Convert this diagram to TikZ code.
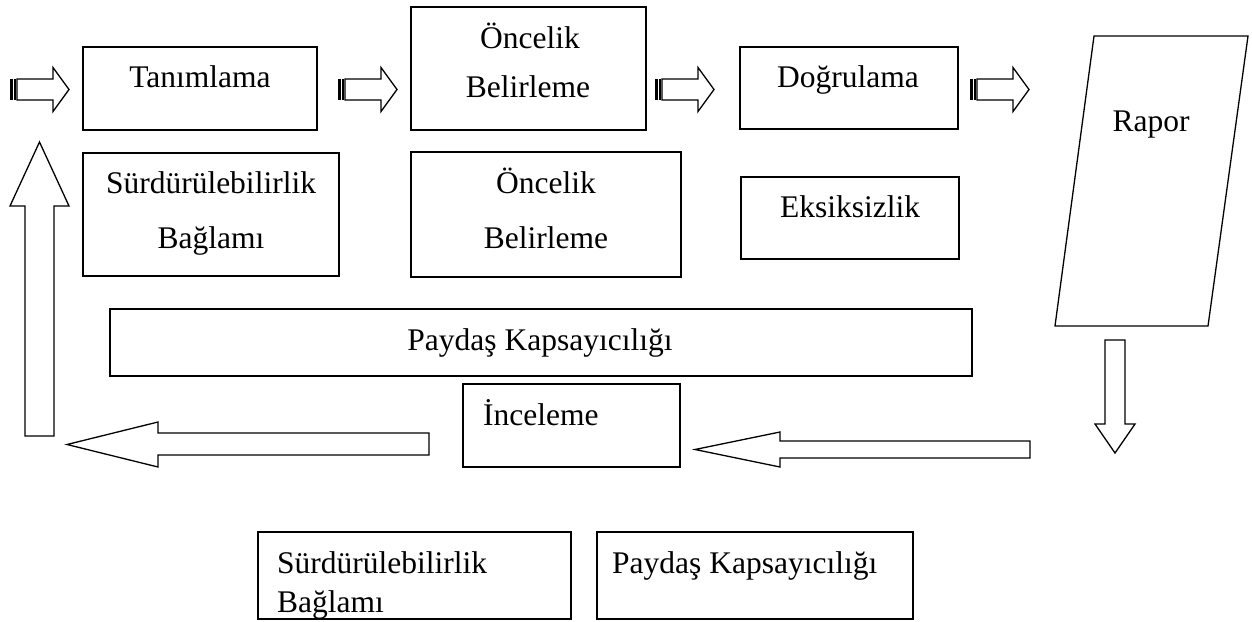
\documentclass[tikz,border=0pt]{standalone}
\usepackage{fontspec}
\setmainfont{Liberation Serif}
\begin{document}
\begin{tikzpicture}[x=1pt,y=-1pt,
  box/.style={draw,line width=1.3pt,inner sep=0pt},
  txt/.style={anchor=base,inner sep=0pt,font=\fontsize{31.5}{38}\selectfont},
  txtl/.style={anchor=base west,inner sep=0pt,font=\fontsize{31.5}{38}\selectfont},
  blockarrow/.style={draw,line width=1.3pt,line join=miter,fill=white},
  pics/striped/.style={code={
    \fill (0,-10.5) rectangle (2.5,10.5);
    \fill (3.5,-10.5) rectangle (5.5,10.5);
    \draw[blockarrow] (7,-10.5) -- (43,-10.5) -- (43,-22) -- (59,0) -- (43,22) -- (43,10.5) -- (7,10.5) -- cycle;
  }}]
\useasboundingbox (0,0) rectangle (1252,621);

% top row boxes
\draw[box] (83,47) rectangle (317,130);
\node[txt] (tan) at (200,87) {Tanımlama};
\draw[box] (411,7) rectangle (646,130);
\node[txt] (onc1a) at (530,48) {Öncelik};
\node[txt] (onc1b) at (528,97) {Belirleme};
\draw[box] (740,47) rectangle (958,129);
\node[txt] (dog) at (848,87) {Doğrulama};

% striped arrows
\pic (s1) at (10,89.5) {striped};
\pic (s2) at (338,89.5) {striped};
\pic (s3) at (655,89.5) {striped};
\pic (s4) at (970,89.5) {striped};

% Rapor parallelogram
\draw[box,line join=miter] (1094,36) -- (1248,36) -- (1208,326) -- (1055,326) -- cycle;
\node[txt] (rap) at (1151,131) {Rapor};

% second row
\draw[box] (83,153) rectangle (339,276);
\node[txt] (sur1a) at (211,193) {Sürdürülebilirlik};
\node[txt] (sur1b) at (211,248) {Bağlamı};
\draw[box] (411,152) rectangle (681,277);
\node[txt] (onc2a) at (546,193) {Öncelik};
\node[txt] (onc2b) at (546,248) {Belirleme};
\draw[box] (741,177) rectangle (959,259);
\node[txt] (eks) at (850,217) {Eksiksizlik};

% wide box
\draw[box] (110,309) rectangle (972,376);
\node[txt] (pay1) at (540,350) {Paydaş Kapsayıcılığı};

% Inceleme
\draw[box] (463,384) rectangle (680,467);
\node[txtl] (inc) at (483,425) {İnceleme};

% bottom boxes
\draw[box] (258,532) rectangle (571,619);
\node[txtl] (sur2a) at (277,573) {Sürdürülebilirlik};
\node[txtl] (sur2b) at (277,612) {Bağlamı};
\draw[box] (597,532) rectangle (913,619);
\node[txtl] (pay2) at (612,573) {Paydaş Kapsayıcılığı};

% big block arrows
\draw[blockarrow] (25,436) -- (25,206) -- (10,206) -- (39.5,142) -- (69,206) -- (54,206) -- (54,436) -- cycle;
\draw[blockarrow] (429,433) -- (158,433) -- (158,422) -- (67,444.5) -- (158,467) -- (158,455) -- (429,455) -- cycle;
\draw[blockarrow] (1030,441) -- (780,441) -- (780,432) -- (695,449.5) -- (780,467) -- (780,458) -- (1030,458) -- cycle;
\draw[blockarrow] (1105,340) -- (1125,340) -- (1125,424) -- (1135,424) -- (1115,453) -- (1095,424) -- (1105,424) -- cycle;
\end{tikzpicture}
\end{document}
